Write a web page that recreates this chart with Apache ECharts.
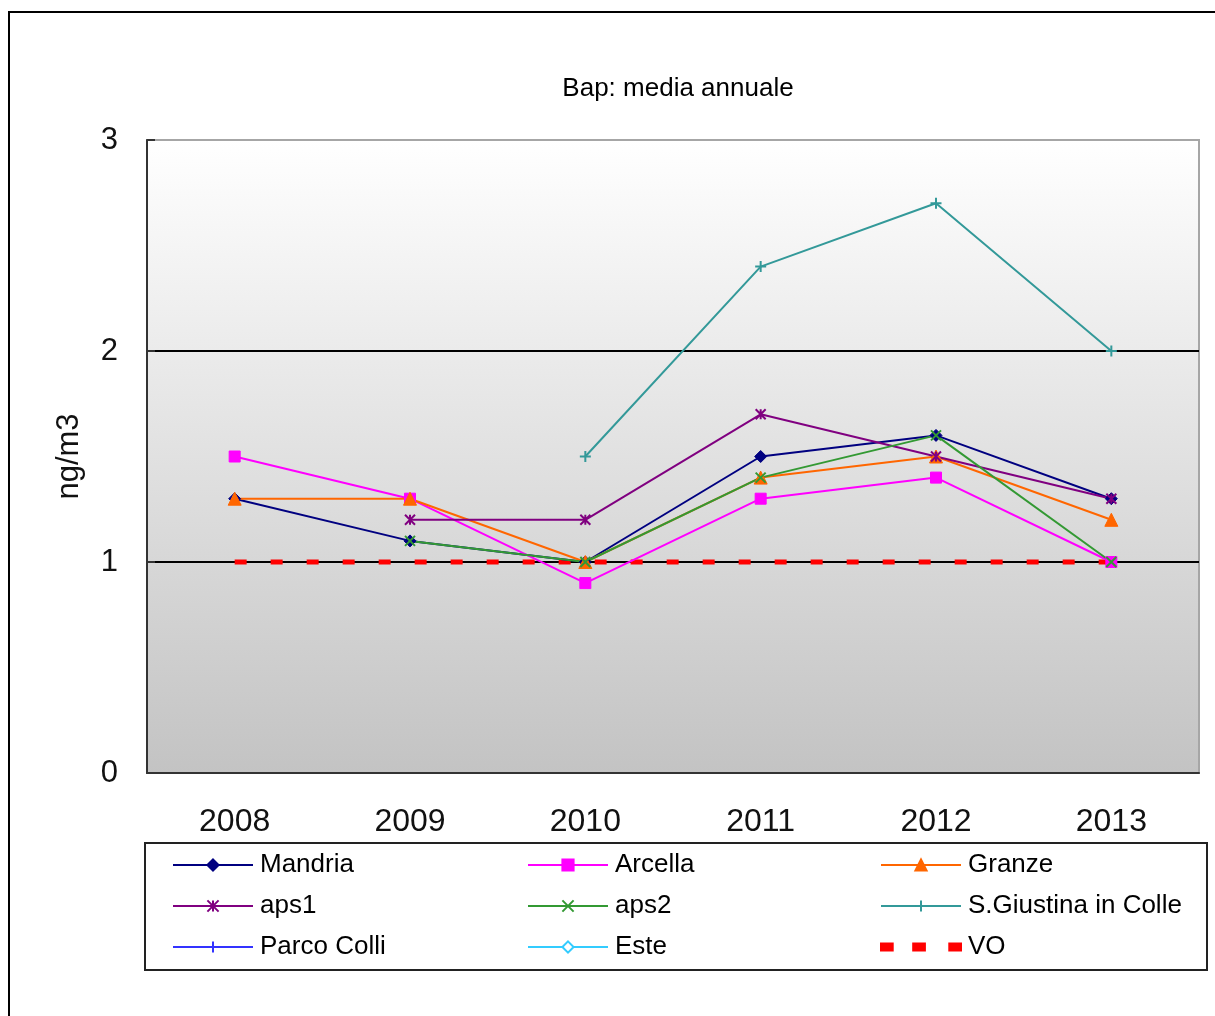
<!DOCTYPE html>
<html>
<head>
<meta charset="utf-8">
<script src="https://cdn.jsdelivr.net/npm/echarts@6/dist/echarts.min.js"></script>
<style>html,body{margin:0;padding:0;background:#fff;}#c{width:1215px;height:1016px;}</style>
</head>
<body>
<div id="c"></div>
<script>
const years = ['2008','2009','2010','2011','2012','2013'];
const mandria   = [1.3, 1.1, 1.0, 1.5, 1.6, 1.3];
const arcella   = [1.5, 1.3, 0.9, 1.3, 1.4, 1.0];
const granze    = [1.3, 1.3, 1.0, 1.4, 1.5, 1.2];
const aps1      = [null, 1.2, 1.2, 1.7, 1.5, 1.3];
const aps2      = [null, 1.1, 1.0, 1.4, 1.6, 1.0];
const giustina  = [null, null, 1.5, 2.4, 2.7, 2.0];
const parcoColli= [null, null, null, null, null, null];
const este      = [null, null, null, null, null, null];
const vo        = [1, 1, 1, 1, 1, 1];
const yTicks = [0, 1, 2, 3];

const FONT = '"Liberation Sans", Arial, sans-serif';
const chart = echarts.init(document.getElementById('c'), null, {renderer: 'canvas'});

const STAR = 'path://M0,0L10,10M10,0L0,10M5,0L5,10';
const XS = 'path://M0,0L10,10M10,0L0,10';
const PLUS = 'path://M5,0L5,10M0,5L10,5';
const VO_ICON = 'path://M0,-3.5L0,-3.5ZM0,0h12v7h-12zM33,0h12v7h-12zM70,0h12v7h-12zM82,10.5L82,10.5Z';

function mk(name, data, color, symbol, size, width, extra) {
  const s = {
    name: name, type: 'line', data: data, symbol: symbol, symbolSize: size,
    showAllSymbol: true,
    lineStyle: {color: color, width: width},
    itemStyle: {color: color, borderColor: color, borderWidth: 1},
    emphasis: {disabled: true},
    z: 3
  };
  return Object.assign(s, extra || {});
}

const legendCommon = {
  orient: 'vertical', itemWidth: 80, itemHeight: 14, itemGap: 15,
  textStyle: {fontFamily: FONT, fontSize: 26, color: '#000', lineHeight: 26, padding: [0,0,0,2]},
  padding: 0, selectedMode: false
};

chart.setOption({
  backgroundColor: '#fff',
  animation: false,
  title: {
    text: 'Bap: media annuale', left: 673, top: 71, textAlign: 'center',
    textStyle: {fontFamily: FONT, fontSize: 26, fontWeight: 'normal', color: '#000'}
  },
  grid: {
    left: 147, top: 140, right: 16, bottom: 243, show: true,
    borderColor: '#a6a6a6', borderWidth: 2,
    backgroundColor: {type: 'linear', x: 0, y: 0, x2: 0, y2: 1,
      colorStops: [{offset: 0, color: '#ffffff'}, {offset: 1, color: '#c3c3c3'}]}
  },
  xAxis: {
    type: 'category', data: years, boundaryGap: true,
    axisLine: {lineStyle: {color: '#333', width: 2}},
    axisTick: {inside: true, length: 8, lineStyle: {color: '#333', width: 2}},
    axisLabel: {fontFamily: FONT, fontSize: 32, color: '#111', margin: 33}
  },
  yAxis: {
    type: 'value', min: yTicks[0], max: yTicks[yTicks.length-1], interval: 1,
    name: 'ng/m3', nameLocation: 'middle', nameGap: 62,
    nameTextStyle: {fontFamily: FONT, fontSize: 31, color: '#111'},
    axisLine: {show: true, lineStyle: {color: '#333', width: 2}},
    axisTick: {show: true, inside: true, length: 8, lineStyle: {color: '#333', width: 2}},
    axisLabel: {fontFamily: FONT, fontSize: 31, color: '#111', margin: 29},
    splitLine: {show: true, showMinLine: false, showMaxLine: false, lineStyle: {color: '#000', width: 2}}
  },
  legend: [
    Object.assign({left: 172, top: 852, data: ['Mandria', 'aps1', 'Parco Colli']}, legendCommon),
    Object.assign({left: 527, top: 852, data: ['Arcella', 'aps2', 'Este']}, legendCommon),
    Object.assign({left: 880, top: 852, data: ['Granze', 'S.Giustina in Colle', {name: 'VO', icon: VO_ICON}]}, legendCommon)
  ],
  graphic: [
    {type: 'rect', shape: {x: 9, y: 12, width: 1400, height: 1200}, style: {fill: 'none', stroke: '#000', lineWidth: 2}, silent: true},
    {type: 'rect', shape: {x: 145, y: 843, width: 1062, height: 127}, style: {fill: 'none', stroke: '#222', lineWidth: 2}, silent: true}
  ],
  series: [
    mk('VO', vo, '#ff0000', 'none', 0, 5, {lineStyle: {color: '#ff0000', width: 5, type: [12, 24]}, z: 2}),
    mk('Mandria', mandria, '#000080', 'diamond', 12, 2),
    mk('Arcella', arcella, '#ff00ff', 'rect', 11, 2),
    mk('Granze', granze, '#ff6600', 'triangle', 13, 2),
    mk('aps1', aps1, '#800080', STAR, 10, 2, {itemStyle: {color: '#800080', borderColor: '#800080', borderWidth: 2}}),
    mk('aps2', aps2, '#339933', XS, 10, 2, {itemStyle: {color: '#339933', borderColor: '#339933', borderWidth: 2}}),
    mk('S.Giustina in Colle', giustina, '#339999', PLUS, 11, 2, {itemStyle: {color: '#339999', borderColor: '#339999', borderWidth: 2}}),
    mk('Parco Colli', parcoColli, '#3333ff', PLUS, 14, 2, {itemStyle: {color: '#3333ff', borderColor: '#3333ff', borderWidth: 2}}),
    mk('Este', este, '#33ccff', 'emptyDiamond', 11, 2)
  ]
});
</script>
</body>
</html>
